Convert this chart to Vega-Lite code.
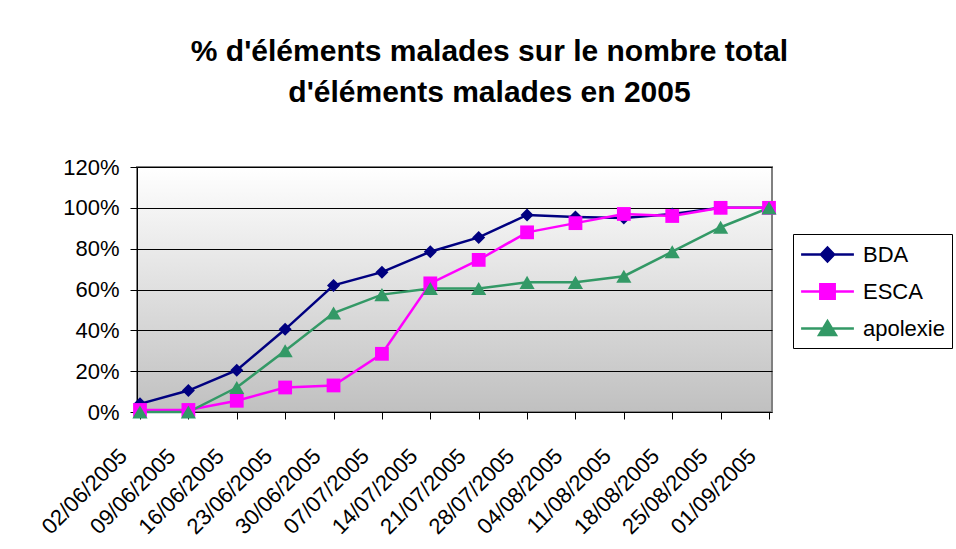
{
  "$schema": "https://vega.github.io/schema/vega-lite/v6.json",
  "width": 635,
  "height": 245,
  "autosize": "none",
  "padding": {"left": 137, "top": 167, "right": 184, "bottom": 137},
  "background": "white",
  "title": {
    "text": ["% d'éléments malades sur le nombre total", "d'éléments malades en 2005"],
    "font": "Liberation Sans",
    "fontSize": 30,
    "fontWeight": "bold",
    "lineHeight": 41,
    "anchor": "middle",
    "dx": 35,
    "offset": 18,
    "baseline": "bottom",
    "color": "black"
  },
  "data": {
    "values": [
      {"date": "02/06/2005", "serie": "BDA", "value": 0.04},
      {"date": "09/06/2005", "serie": "BDA", "value": 0.105},
      {"date": "16/06/2005", "serie": "BDA", "value": 0.205},
      {"date": "23/06/2005", "serie": "BDA", "value": 0.405},
      {"date": "30/06/2005", "serie": "BDA", "value": 0.62},
      {"date": "07/07/2005", "serie": "BDA", "value": 0.685},
      {"date": "14/07/2005", "serie": "BDA", "value": 0.785},
      {"date": "21/07/2005", "serie": "BDA", "value": 0.855},
      {"date": "28/07/2005", "serie": "BDA", "value": 0.965},
      {"date": "04/08/2005", "serie": "BDA", "value": 0.955},
      {"date": "11/08/2005", "serie": "BDA", "value": 0.95},
      {"date": "18/08/2005", "serie": "BDA", "value": 0.97},
      {"date": "25/08/2005", "serie": "BDA", "value": 1.0},
      {"date": "01/09/2005", "serie": "BDA", "value": 1.0},
      {"date": "02/06/2005", "serie": "ESCA", "value": 0.01},
      {"date": "09/06/2005", "serie": "ESCA", "value": 0.01},
      {"date": "16/06/2005", "serie": "ESCA", "value": 0.055},
      {"date": "23/06/2005", "serie": "ESCA", "value": 0.12},
      {"date": "30/06/2005", "serie": "ESCA", "value": 0.13},
      {"date": "07/07/2005", "serie": "ESCA", "value": 0.285},
      {"date": "14/07/2005", "serie": "ESCA", "value": 0.63},
      {"date": "21/07/2005", "serie": "ESCA", "value": 0.745},
      {"date": "28/07/2005", "serie": "ESCA", "value": 0.88},
      {"date": "04/08/2005", "serie": "ESCA", "value": 0.925},
      {"date": "11/08/2005", "serie": "ESCA", "value": 0.97},
      {"date": "18/08/2005", "serie": "ESCA", "value": 0.96},
      {"date": "25/08/2005", "serie": "ESCA", "value": 1.0},
      {"date": "01/09/2005", "serie": "ESCA", "value": 1.0},
      {"date": "02/06/2005", "serie": "apolexie", "value": 0.0},
      {"date": "09/06/2005", "serie": "apolexie", "value": 0.0},
      {"date": "16/06/2005", "serie": "apolexie", "value": 0.12},
      {"date": "23/06/2005", "serie": "apolexie", "value": 0.30},
      {"date": "30/06/2005", "serie": "apolexie", "value": 0.485},
      {"date": "07/07/2005", "serie": "apolexie", "value": 0.575},
      {"date": "14/07/2005", "serie": "apolexie", "value": 0.605},
      {"date": "21/07/2005", "serie": "apolexie", "value": 0.605},
      {"date": "28/07/2005", "serie": "apolexie", "value": 0.635},
      {"date": "04/08/2005", "serie": "apolexie", "value": 0.635},
      {"date": "11/08/2005", "serie": "apolexie", "value": 0.665},
      {"date": "18/08/2005", "serie": "apolexie", "value": 0.785},
      {"date": "25/08/2005", "serie": "apolexie", "value": 0.905},
      {"date": "01/09/2005", "serie": "apolexie", "value": 1.0}
    ]
  },
  "encoding": {
    "x": {
      "field": "date",
      "type": "ordinal",
      "sort": null,
      "scale": {"type": "point", "padding": 0.062},
      "axis": {
        "title": null,
        "labelAngle": -45,
        "labelAlign": "right",
        "labelBaseline": "top",
        "labelOffset": -24,
        "labelPadding": 26,
        "labelFont": "Liberation Sans",
        "labelFontSize": 22,
        "labelColor": "black",
        "tickSize": 7,
        "tickColor": "black",
        "domain": false,
        "grid": false
      }
    },
    "y": {
      "field": "value",
      "type": "quantitative",
      "scale": {"domain": [0, 1.2], "nice": false, "zero": true},
      "axis": {
        "title": null,
        "values": [0, 0.2, 0.4, 0.6, 0.8, 1.0, 1.2],
        "format": ".0%",
        "labelFont": "Liberation Sans",
        "labelFontSize": 22,
        "labelColor": "black",
        "labelPadding": 11,
        "tickSize": 7,
        "tickColor": "black",
        "domainColor": "black",
        "domainWidth": 1,
        "grid": true,
        "gridColor": "black",
        "gridWidth": 1,
        "gridOpacity": 1
      }
    }
  },
  "layer": [
    {
      "transform": [{"filter": "false"}],
      "mark": {"type": "point", "filled": true, "opacity": 1, "strokeWidth": 2.5},
      "encoding": {
        "fill": {
          "field": "serie",
          "type": "nominal",
          "scale": {"domain": ["BDA", "ESCA", "apolexie"], "range": ["#000080", "#FF00FF", "#339966"]},
          "legend": {
            "title": null, "orient": "none", "legendX": 656, "legendY": 67, "padding": 7,
            "strokeColor": "black", "fillColor": "white", "symbolSize": 576, "symbolOffset": 14,
            "symbolStrokeWidth": 2.5, "symbolOpacity": 1, "labelOffset": 22,
            "labelFont": "Liberation Sans", "labelFontSize": 22, "labelColor": "black",
            "rowPadding": 11, "labelLimit": 300
          }
        },
        "stroke": {
          "field": "serie",
          "type": "nominal",
          "scale": {"domain": ["BDA", "ESCA", "apolexie"], "range": ["#000080", "#FF00FF", "#339966"]},
          "legend": {
            "title": null, "orient": "none", "legendX": 656, "legendY": 67, "padding": 7,
            "strokeColor": "black", "fillColor": "white", "symbolSize": 576, "symbolOffset": 14,
            "symbolStrokeWidth": 2.5, "symbolOpacity": 1, "labelOffset": 22,
            "labelFont": "Liberation Sans", "labelFontSize": 22, "labelColor": "black",
            "rowPadding": 11, "labelLimit": 300
          }
        },
        "shape": {
          "field": "serie",
          "type": "nominal",
          "scale": {
            "domain": ["BDA", "ESCA", "apolexie"],
            "range": [
              "M-2.2,0L2.2,0M0,-0.58L0.55,0L0,0.58L-0.55,0Z",
              "M-2.2,0L2.2,0M-0.6,-0.6L0.6,-0.6L0.6,0.6L-0.6,0.6Z",
              "M-2.2,0L2.2,0M0,-0.62L0.7,0.55L-0.7,0.55Z"
            ]
          },
          "legend": {
            "title": null, "orient": "none", "legendX": 656, "legendY": 67, "padding": 7,
            "strokeColor": "black", "fillColor": "white", "symbolSize": 576, "symbolOffset": 14,
            "symbolStrokeWidth": 2.5, "symbolOpacity": 1, "labelOffset": 22,
            "labelFont": "Liberation Sans", "labelFontSize": 22, "labelColor": "black",
            "rowPadding": 11, "labelLimit": 300
          }
        }
      }
    },
    {
      "mark": {"type": "line", "strokeWidth": 2.5},
      "encoding": {
        "color": {
          "field": "serie",
          "type": "nominal",
          "scale": {"range": ["#000080", "#FF00FF", "#339966"]},
          "legend": null
        }
      }
    },
    {
      "transform": [{"filter": "datum.serie === 'BDA'"}],
      "mark": {"type": "point", "filled": true, "opacity": 1, "size": 170, "shape": "diamond", "color": "#000080"}
    },
    {
      "transform": [{"filter": "datum.serie === 'ESCA'"}],
      "mark": {"type": "point", "filled": true, "opacity": 1, "size": 190, "shape": "square", "color": "#FF00FF"}
    },
    {
      "transform": [{"filter": "datum.serie === 'apolexie'"}],
      "mark": {"type": "point", "filled": true, "opacity": 1, "size": 230, "shape": "triangle-up", "color": "#339966"}
    }
  ],
  "config": {
    "view": {
      "stroke": "#808080",
      "strokeWidth": 2,
      "fill": {
        "gradient": "linear",
        "x1": 0, "y1": 0, "x2": 0, "y2": 1,
        "stops": [
          {"offset": 0, "color": "#ffffff"},
          {"offset": 1, "color": "#c0c0c0"}
        ]
      }
    }
  }
}
